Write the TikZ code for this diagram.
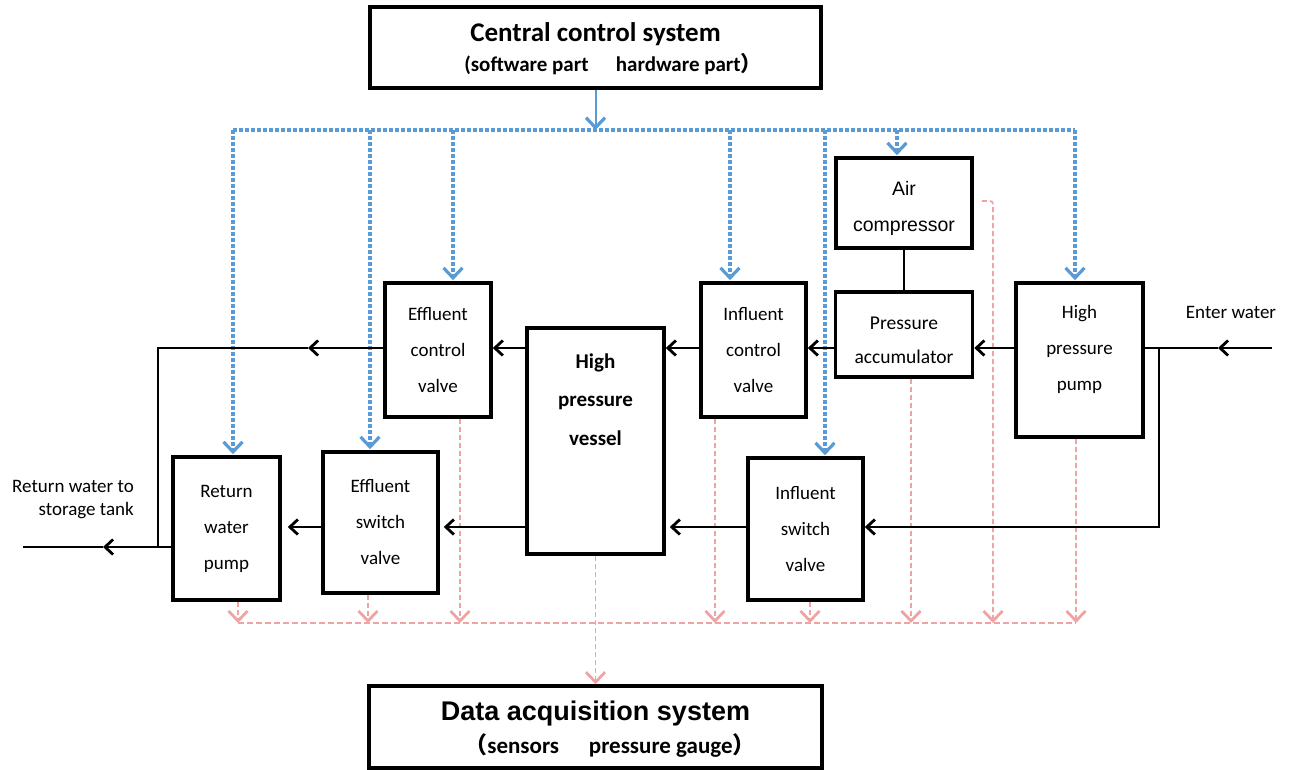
\documentclass[tikz,border=0pt]{standalone}
\usepackage{fontspec}
\setmainfont{Carlito}
\newfontfamily\arialf{Liberation Sans}
\newfontfamily\cjk{Noto Sans CJK SC}
\usetikzlibrary{arrows.meta,calc}
\definecolor{ctlblue}{HTML}{5B9BD5}
\definecolor{datapink}{HTML}{EFA3A3}
\tikzset{
  box/.style={draw=black, line width=3.6pt, fill=white, inner sep=0pt, align=center},
  boxtxt/.style={font=\fontsize{19}{36}\selectfont, align=center, inner sep=0pt},
  flow/.style={draw=black, line width=2.1pt},
  farr/.style={flow, -{Straight Barb[length=8pt,width=15pt,line width=2.8pt]}},
  ctl/.style={draw=ctlblue, line width=3.4pt, dash pattern=on 4pt off 2pt},
  ctlarr/.style={ctl, shorten >=1pt, -{Straight Barb[length=10pt,width=19pt,line width=3.2pt]}},
  ctlsolid/.style={draw=ctlblue, line width=2pt, -{Straight Barb[length=10pt,width=19pt,line width=3.2pt]}},
  dat/.style={draw=datapink, line width=1.7pt, dash pattern=on 5pt off 3pt},
  datbus/.style={draw=datapink, line width=2.8pt, dash pattern=on 6pt off 3pt},
  datarr/.style={dat, -{Straight Barb[length=10pt,width=19pt,line width=2.8pt]}},
}
\begin{document}
\begin{tikzpicture}[x=1pt,y=-1pt]
\useasboundingbox (0,0) rectangle (1291,770);

% ---------- boxes ----------
\node[box, minimum width=451, minimum height=81] (ccs) at (595.5,47.5) {};
\node[anchor=base, font=\fontsize{27}{30}\selectfont\bfseries, inner sep=0pt] (ccst1) at (595.5,42) {Central control system};
\node[anchor=base, font=\fontsize{21}{24}\selectfont\bfseries, inner sep=0pt] (ccst2) at (613,72) {(software part\hspace{1.3em}hardware part{\cjk ）}};

\node[box, minimum width=453, minimum height=82] (das) at (595.5,727) {};
\node[anchor=base, font=\arialf\fontsize{27}{30}\selectfont\bfseries, inner sep=0pt] (dast1) at (595.5,720) {Data acquisition system};
\node[anchor=base, font=\fontsize{23}{26}\selectfont\bfseries, inner sep=0pt] (dast2) at (610,753) {{\cjk （}sensors\hspace{1.3em}pressure gauge{\cjk ）}};

\node[box, minimum width=136, minimum height=90] (air) at (904,203) {};
\node[anchor=base, boxtxt, font=\arialf\fontsize{19.5}{36}\selectfont] (airt) at (904,232) {Air\\compressor};

\node[box, minimum width=137, minimum height=85] (pa) at (904,334.5) {};
\node[anchor=base, boxtxt, font=\fontsize{19.5}{34}\selectfont] (pat) at (904,363) {Pressure\\accumulator};

\node[box, minimum width=127, minimum height=154] (hpp) at (1079.5,360) {};
\node[anchor=base, boxtxt] (hppt) at (1079.5,390) {High\\pressure\\pump};

\node[box, minimum width=105, minimum height=134, boxtxt] (icv) at (753.5,350) {Influent\\control\\valve};

\node[box, minimum width=137, minimum height=226] (vessel) at (595.5,441) {};
\node[anchor=base, font=\fontsize{21}{38.5}\selectfont\bfseries, align=center, inner sep=0pt] (vesselt) at (595.5,445) {High\\pressure\\vessel};

\node[box, minimum width=115, minimum height=142, boxtxt] (isv) at (805.5,529) {Influent\\switch\\valve};
\node[box, minimum width=106, minimum height=134, boxtxt] (ecv) at (438,350) {Effluent\\control\\valve};
\node[box, minimum width=115, minimum height=141, boxtxt] (esv) at (380.5,522.5) {Effluent\\switch\\valve};
\node[box, minimum width=107, minimum height=143, boxtxt] (rwp) at (226.5,528.5) {Return\\water\\pump};

\node[anchor=base, font=\fontsize{19}{22}\selectfont, inner sep=0pt] (enter) at (1231,318) {Enter water};
\node[anchor=base east, font=\fontsize{19}{23}\selectfont, align=right, inner sep=0pt] (retlab) at (134,515) {Return water to\\storage tank};

% ---------- control bus (blue) ----------
\coordinate (bL) at (233,130);
\coordinate (b0) at (595.5,130);
\coordinate (b2) at (370,130);
\coordinate (b3) at (453,130);
\coordinate (b4) at (730,130);
\coordinate (b5) at (825,130);
\coordinate (b6) at (897,130);
\coordinate (bR) at (1075,130);
\draw[ctl] (bL) -- (bR);
\draw[ctlsolid] (ccs.south) -- (b0);
\draw[ctlarr] (bL) -- (rwp.north -| bL);
\draw[ctlarr] (b2) -- (esv.north -| b2);
\draw[ctlarr] (b3) -- (ecv.north -| b3);
\draw[ctlarr] (b4) -- (icv.north -| b4);
\draw[ctlarr] (b5) -- (isv.north -| b5);
\draw[ctlarr] (b6) -- (air.north -| b6);
\draw[ctlarr] (bR) -- (hpp.north -| bR);

% ---------- data bus (pink) ----------
\coordinate (p1) at (238,623);
\coordinate (p2) at (368,623);
\coordinate (p3) at (460,623);
\coordinate (p5) at (715,623);
\coordinate (p6) at (810,623);
\coordinate (p7) at (911,623);
\coordinate (p8) at (993,623);
\coordinate (p9) at (1076,623);
\coordinate (ac1) at ($(air.east)+(8,-2)$);
\draw[datbus] (p1) -- (p9);
\draw[datarr] (rwp.south -| p1) -- (p1);
\draw[datarr] (esv.south -| p2) -- (p2);
\draw[datarr] (ecv.south -| p3) -- (p3);
\draw[datarr] (icv.south -| p5) -- (p5);
\draw[datarr] (isv.south -| p6) -- (p6);
\draw[datarr] (pa.south -| p7) -- (p7);
\draw[datarr, rounded corners=3pt] (ac1) -| (p8);
\draw[datarr] (hpp.south -| p9) -- (p9);
\draw[datarr] (vessel.south) -- (das.north);

% ---------- water flow (black) ----------
\coordinate (inS) at (1272,348);
\coordinate (inA) at (1218,348);
\coordinate (jR) at (1159,348);
\coordinate (jRb) at (1159,527);
\coordinate (lA) at (308,348);
\coordinate (lC) at (158,348);
\coordinate (lD) at (158,547);
\coordinate (oA) at (103,547);
\coordinate (oE) at (23,547);
\draw[farr] (inS) -- (inA);
\draw[flow] (inA) -- (hpp.east |- inA);
\draw[farr] (jR) -- (jRb) -- (isv.east |- jRb);
\draw[farr] (hpp.west |- inA) -- (pa.east |- inA);
\draw[farr] (pa.west |- inA) -- (icv.east |- inA);
\draw[farr] (icv.west |- inA) -- (vessel.east |- inA);
\draw[farr] (isv.west |- jRb) -- ($(vessel.east |- jRb)+(4,0)$);
\draw[farr] (vessel.west |- inA) -- (ecv.east |- inA);
\draw[farr] (vessel.west |- jRb) -- ($(esv.east |- jRb)+(4,0)$);
\draw[farr] (ecv.west |- inA) -- (lA);
\draw[flow] (lA) -- (lC) -- (lD) -- (rwp.west |- lD);
\draw[farr] (rwp.west |- lD) -- (oA);
\draw[flow] (oA) -- (oE);
\draw[farr] (esv.west |- jRb) -- ($(rwp.east |- jRb)+(6,0)$);
\draw[flow] (air.south) -- (pa.north);
\end{tikzpicture}
\end{document}
